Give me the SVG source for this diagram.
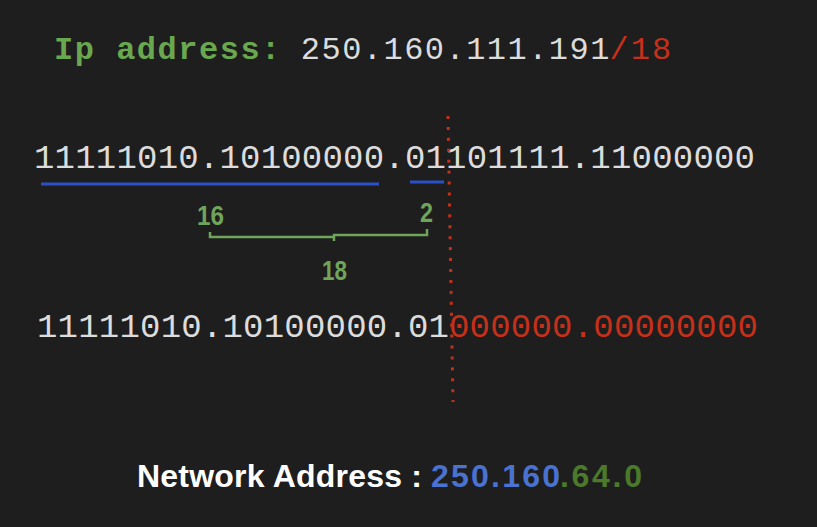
<svg xmlns="http://www.w3.org/2000/svg" width="817" height="527" viewBox="0 0 817 527">
<style>
.mono{font-family:"Liberation Mono","DejaVu Sans Mono",monospace;}
.hdr{font-size:32px;}
.row{font-size:34px;fill:#dcdcdc;}
.g{fill:#6aa84f;font-weight:bold;}
.w{fill:#dcdcdc;}
.r{fill:#c5301b;}
.lbl{font-family:"Liberation Sans",Arial,sans-serif;font-weight:bold;font-size:28px;fill:#6fa55a;}
.net{font-family:"Liberation Sans",Arial,sans-serif;font-weight:bold;font-size:32px;}
.ul{stroke:#2b50c8;stroke-width:3;fill:none;}
.br{stroke:#6fa55a;stroke-width:2.5;fill:none;}
</style>
<rect x="0" y="0" width="817" height="527" fill="#1e1e1e"/>
<g id="ip-address">
<text class="mono hdr g" x="54" y="59" textLength="226.3" lengthAdjust="spacing">Ip address:</text>
<text class="mono hdr w" x="300.8" y="59" textLength="308.6" lengthAdjust="spacing">250.160.111.191</text>
<text class="mono hdr r" x="609.4" y="59" textLength="61.7" lengthAdjust="spacing">/18</text>
</g>
<g id="binary-ip">
<text class="mono row" x="34" y="168" textLength="721" lengthAdjust="spacing">11111010.10100000.01101111.11000000</text>
</g>
<g id="binary-network">
<text class="mono row w" x="37" y="337" textLength="412" lengthAdjust="spacing">11111010.10100000.01</text>
<text class="mono row r" x="449" y="337" textLength="309" lengthAdjust="spacing">000000.00000000</text>
</g>
<g id="label-16"><text class="lbl" x="197" y="225" textLength="27" lengthAdjust="spacingAndGlyphs">16</text></g>
<g id="label-2"><text class="lbl" x="420" y="222" textLength="13" lengthAdjust="spacingAndGlyphs">2</text></g>
<g id="label-18"><text class="lbl" x="322" y="280" textLength="25" lengthAdjust="spacingAndGlyphs">18</text></g>
<g id="connectors">
<line class="ul" x1="41" y1="184" x2="379" y2="184"/>
<line class="ul" x1="410" y1="182" x2="444" y2="182"/>
<path class="br" d="M210,232 V237 H334 V241 M334,237 V235 H427 V229"/>
<line x1="448" y1="116" x2="453" y2="402" stroke="#c5301b" stroke-width="3" stroke-dasharray="3 7.93"/>
</g>
<g id="network-address">
<text class="net" x="137" y="487" fill="#ffffff" textLength="285" lengthAdjust="spacing">Network Address :</text>
<text class="net" x="431" y="487" fill="#4a72d0" textLength="129" lengthAdjust="spacing">250.160</text>
<text class="net" x="560" y="487" fill="#4a7a2a" textLength="82" lengthAdjust="spacing">.64.0</text>
</g>
</svg>
